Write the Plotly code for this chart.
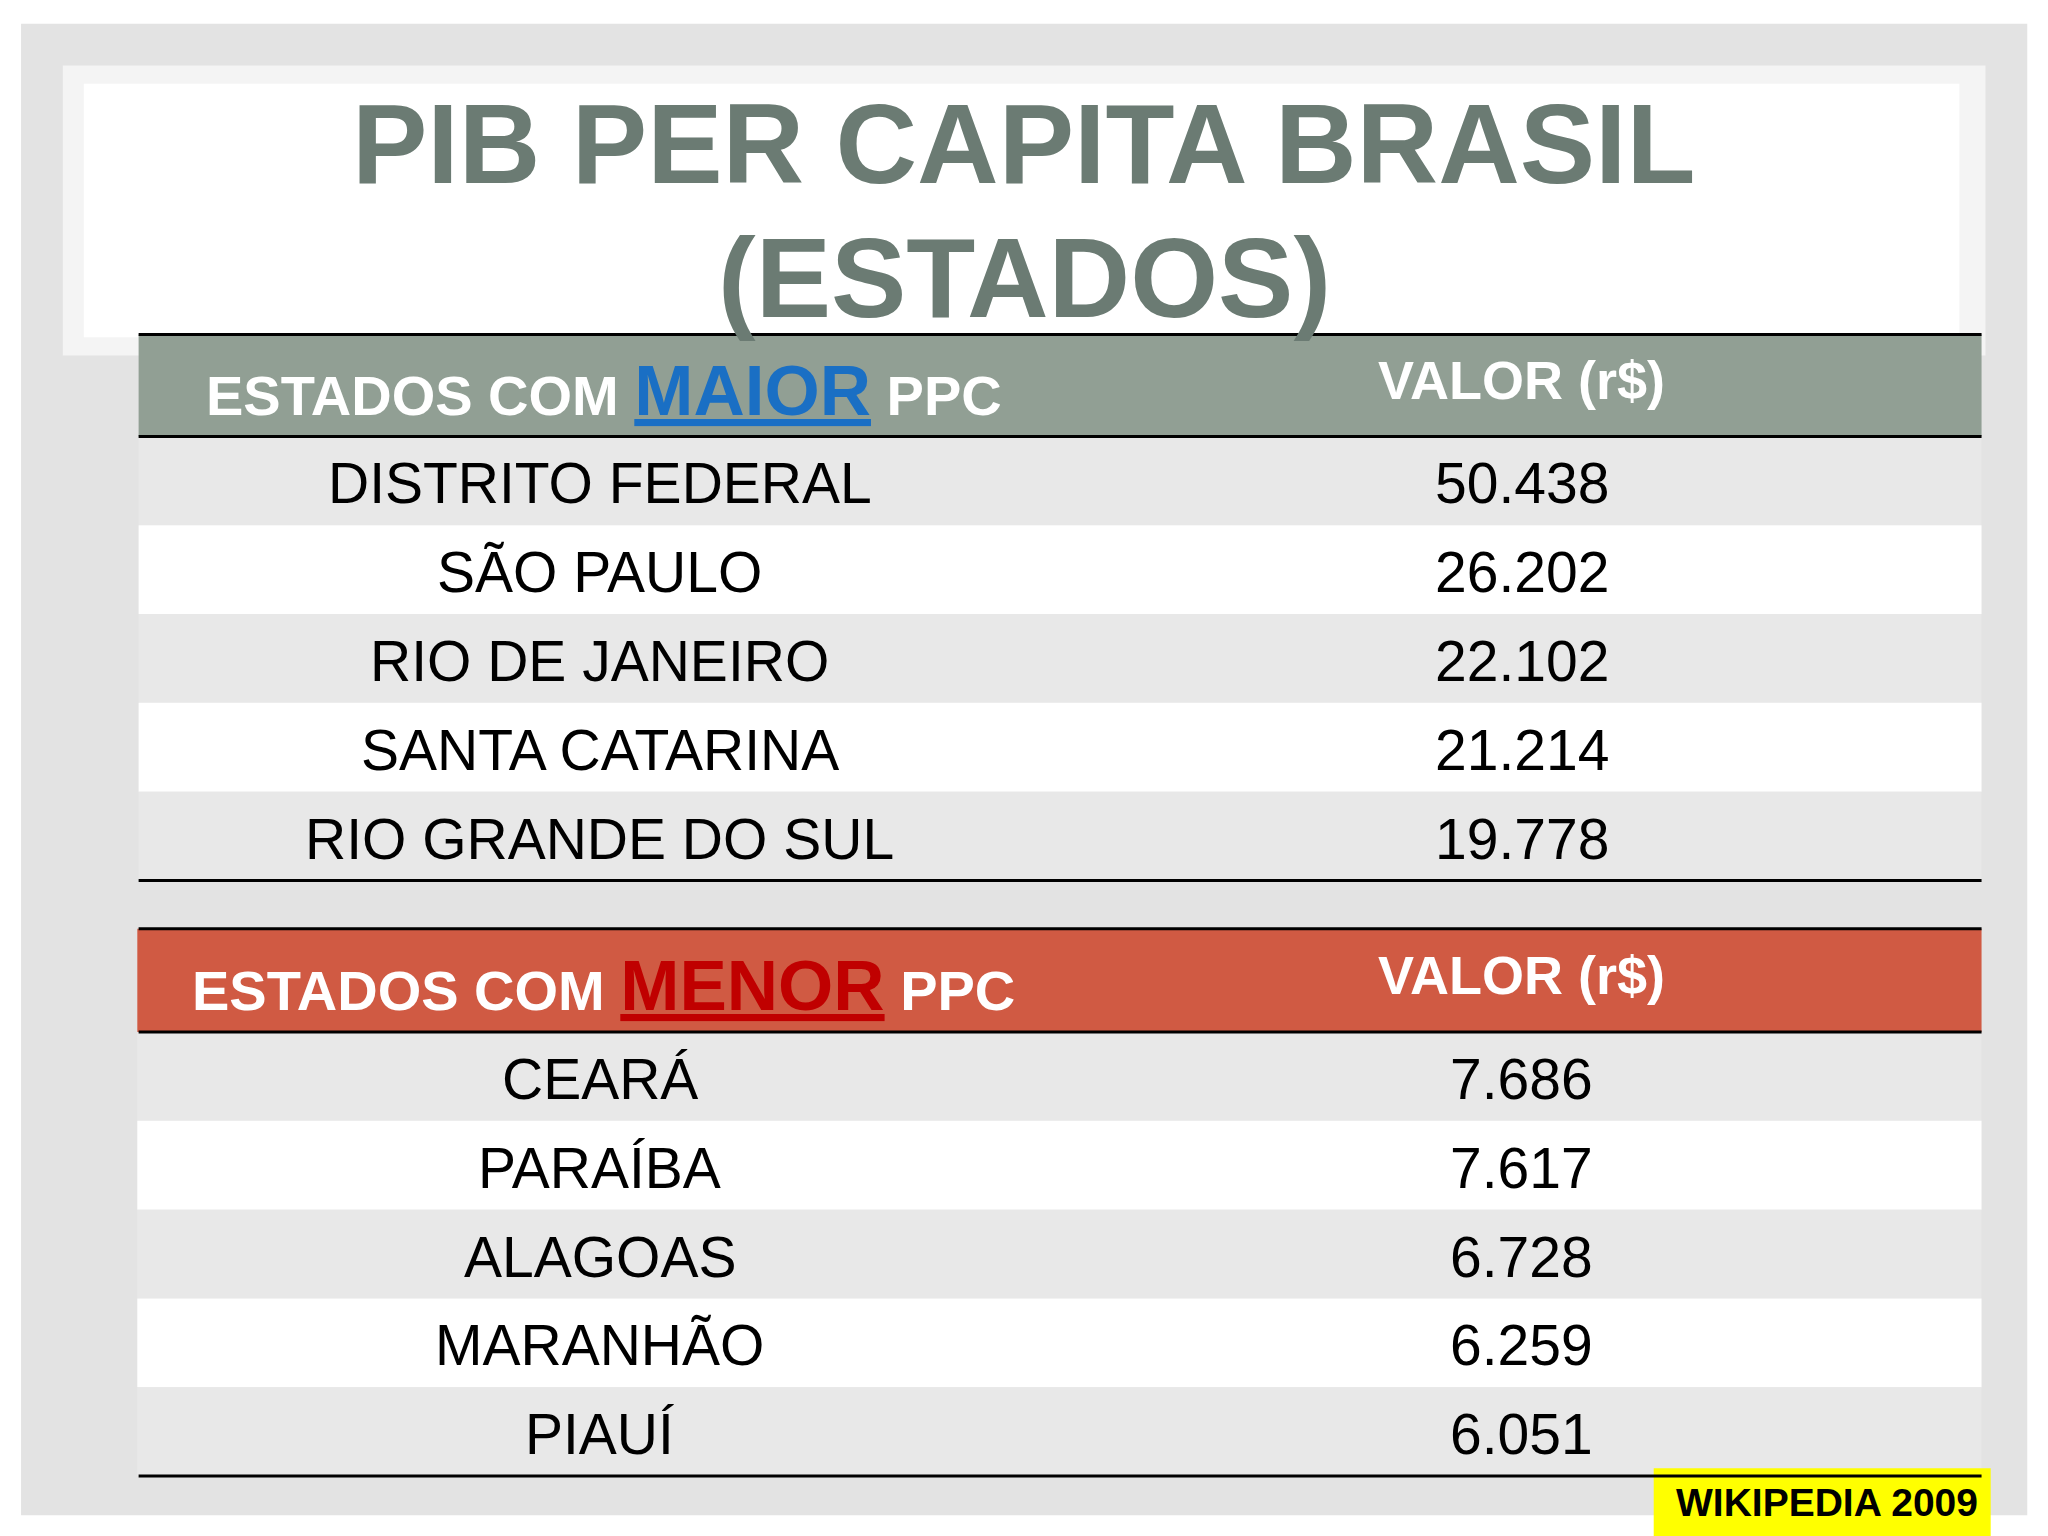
import plotly.graph_objects as go

W0, H0 = 1568, 1176
top_states = ["DISTRITO FEDERAL", "SÃO PAULO", "RIO DE JANEIRO", "SANTA CATARINA", "RIO GRANDE DO SUL"]
top_values = ["50.438", "26.202", "22.102", "21.214", "19.778"]
low_states = ["CEARÁ", "PARAÍBA", "ALAGOAS", "MARANHÃO", "PIAUÍ"]
low_values = ["7.686", "7.617", "6.728", "6.259", "6.051"]

OFF = 6
def px(x): return (x - OFF) / W0
def py(y): return 1 - (y - OFF) / H0

shapes, ann = [], []
def rect(x0, y0, x1, y1, color, line=None):
    shapes.append(dict(type="rect", xref="paper", yref="paper", x0=px(x0), x1=px(x1), y0=py(y1), y1=py(y0),
                       fillcolor=color, line=dict(width=0) if line is None else line, layer="below"))
def hline(y, x0=106, x1=1517, w=3):
    shapes.append(dict(type="line", xref="paper", yref="paper", x0=px(x0), x1=px(x1), y0=py(y), y1=py(y),
                       line=dict(color="black", width=w)))
def text(x, y, t, size, color="black", bold=False, xanchor="center", family="Liberation Sans, Arial"):
    ann.append(dict(xref="paper", yref="paper", x=px(x), y=py(y), text=("<b>%s</b>" % t) if bold else t,
                    showarrow=False, xanchor=xanchor, yanchor="middle", font=dict(size=size, color=color, family=family)))

rect(16, 18, 1552, 1160, "#e3e3e3")
rect(48, 50, 1520, 272, "#f4f4f4")
rect(64, 64, 1500, 258, "#ffffff")

text(784, 110, "PIB PER CAPITA BRASIL", 113, "#6b7b73", True)
text(784, 213, "(ESTADOS)", 113, "#6b7b73", True)

def table(ytop, hdr_bottom, hdr_color, word, word_color, states, values, x0=106, lx=156):
    rect(x0, ytop, 1517, hdr_bottom, hdr_color)
    hline(ytop); hline(hdr_bottom)
    hy = (ytop + hdr_bottom) / 2
    text(lx, hy + 4,
         "<b>ESTADOS COM <span style='color:%s;font-size:71px;text-decoration:underline'>%s</span> PPC</b>" % (word_color, word),
         56, "white", False, "left")
    text(1165, hy - 4, "VALOR (r$)", 54, "white", True)
    for i, (s, v) in enumerate(zip(states, values)):
        y0 = hdr_bottom + 68 * i
        rect(x0, y0, 1517, y0 + 68, "#e8e8e8" if i % 2 == 0 else "#ffffff")
        text(459, y0 + 36, s, 57)
        text(1165, y0 + 36, v, 57)
    hline(hdr_bottom + 68 * len(states))

table(256, 334, "#919f94", "MAIOR", "#1a6fc4", top_states, top_values)
table(711, 790, "#d05a43", "MENOR", "#c00000", low_states, low_values, x0=105, lx=145)

rect(1266, 1124, 1524, 1176, "#ffff00")
text(1399, 1150, "WIKIPEDIA 2009", 39, "black", True)

fig = go.Figure()
fig.update_layout(width=2048, height=1536, margin=dict(l=0, r=0, t=0, b=0),
                  paper_bgcolor="white", plot_bgcolor="white", shapes=shapes, annotations=ann,
                  xaxis=dict(visible=False), yaxis=dict(visible=False))
fig.write_html("out.html")
